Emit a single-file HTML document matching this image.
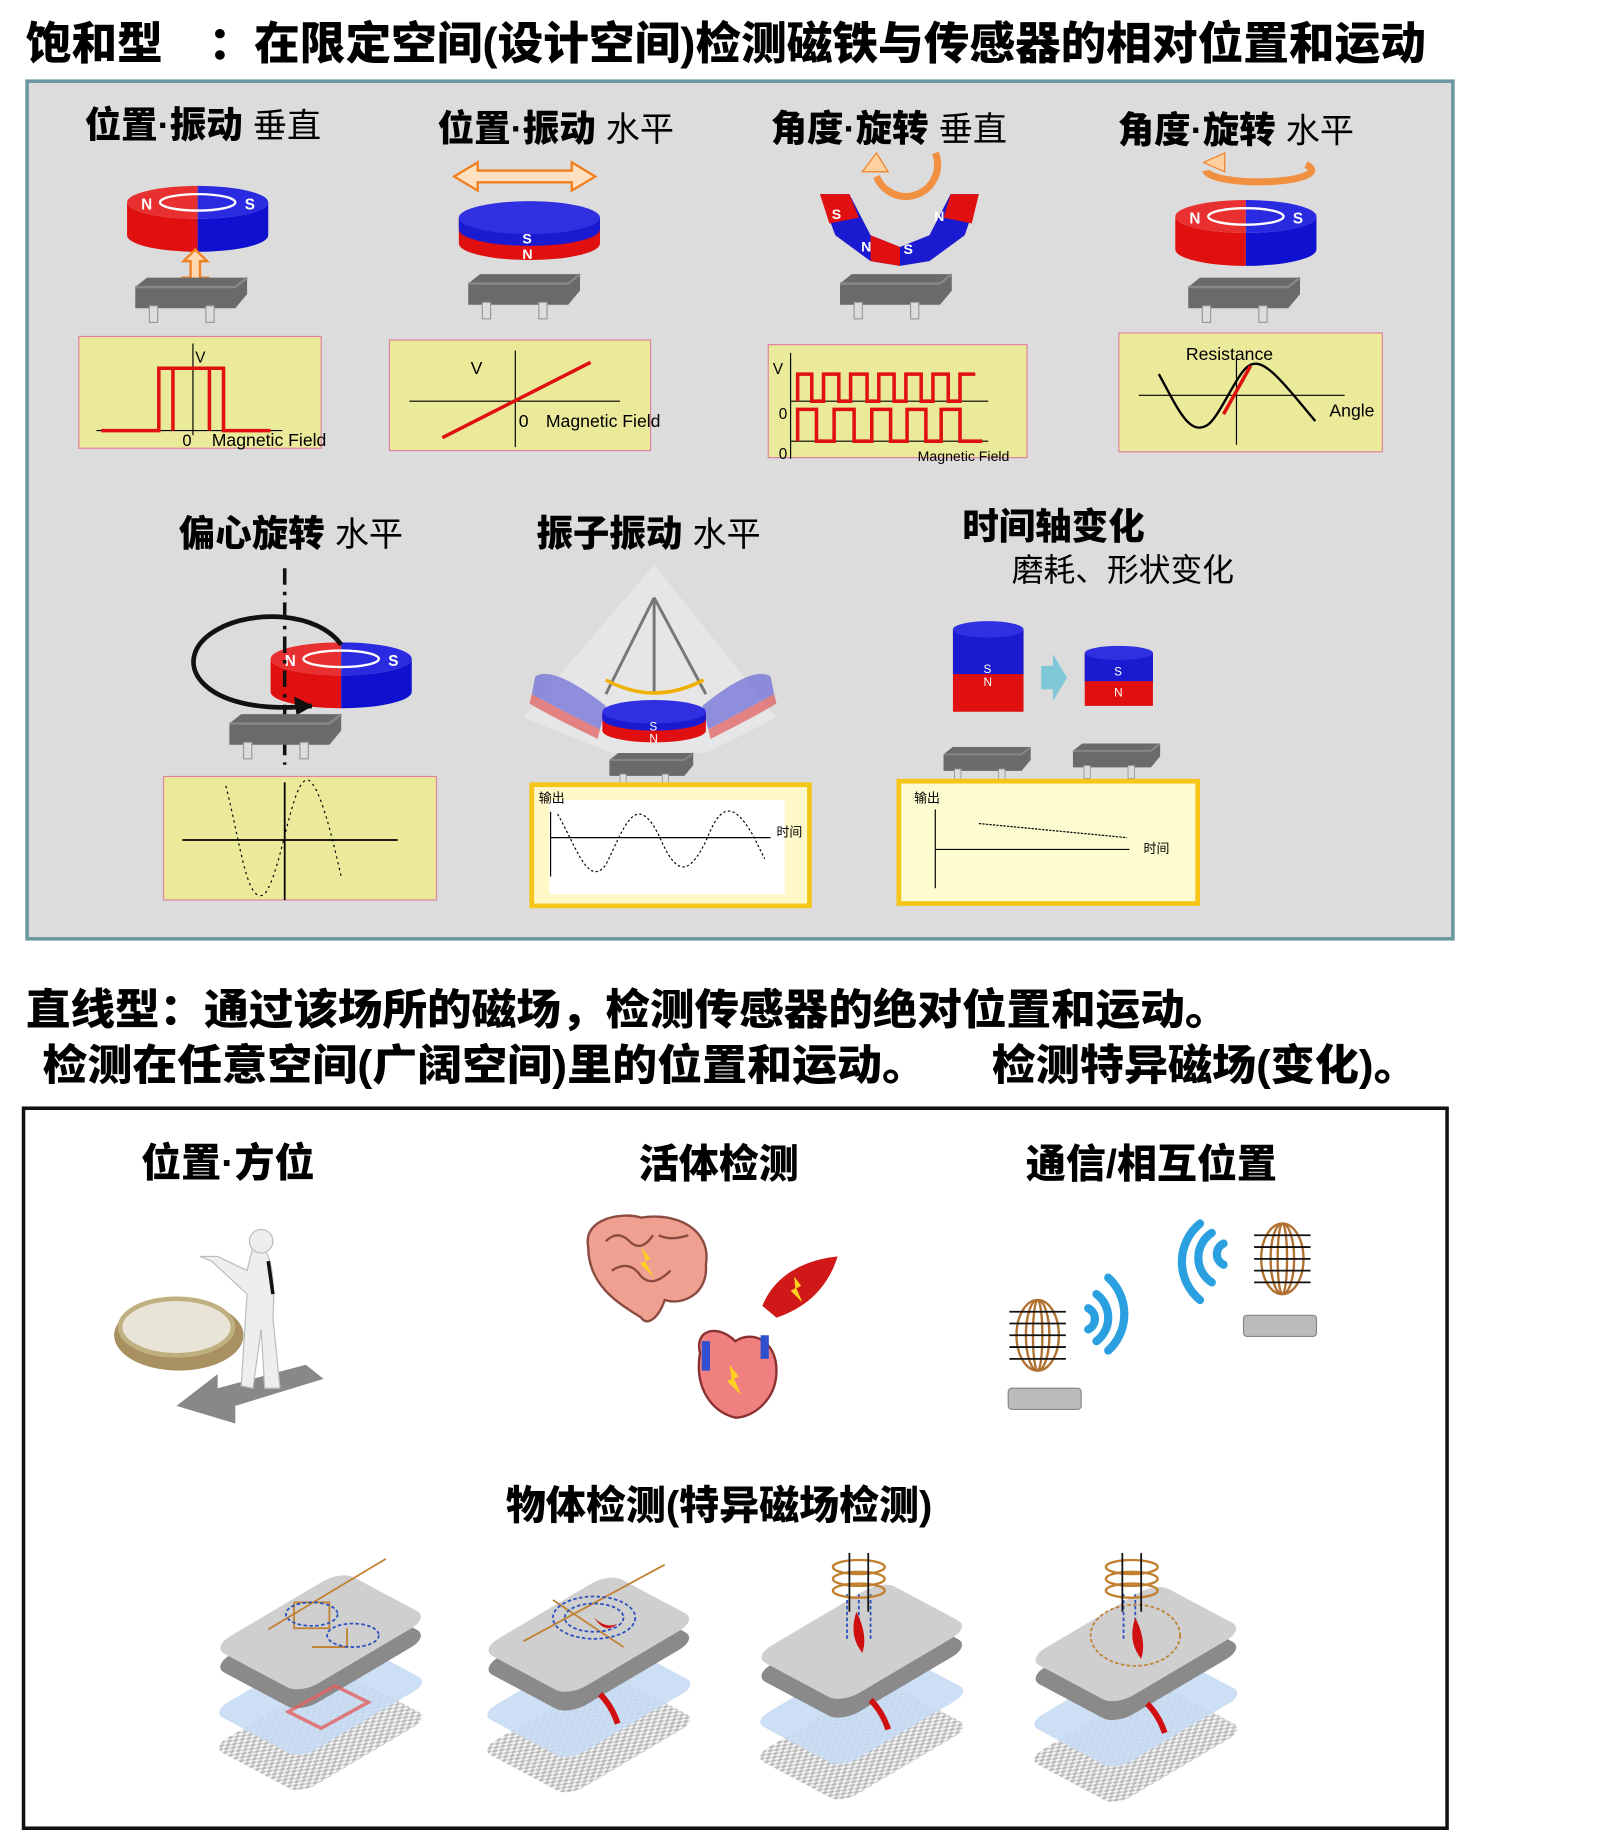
<!DOCTYPE html>
<html><head><meta charset="utf-8"><style>
html,body{margin:0;padding:0;background:#fff}
svg{display:block}
text{font-family:"Liberation Sans","Noto Sans CJK SC",sans-serif}
.h{font-weight:900}
</style></head><body>
<svg width="1600" height="1838" viewBox="0 0 1360 1562.3" xmlns="http://www.w3.org/2000/svg">
<defs>
<g id="chip">
<path d="M0 8 L10 0 L95 0 L95 14 L85 26 L0 26 Z" fill="#6a6a6a"/>
<path d="M0 8 L85 8 L95 0" fill="none" stroke="#888" stroke-width="2"/>
<rect x="12" y="24" width="7" height="14" fill="#ddd" stroke="#999"/>
<rect x="60" y="24" width="7" height="14" fill="#ddd" stroke="#999"/>
</g>
<g id="mag">
<path d="M-60 0 L-60 28 A60 14 0 0 0 0 42 L0 14 A60 14 0 0 1 -60 0Z" fill="#e01010"/>
<path d="M60 0 L60 28 A60 14 0 0 1 0 42 L0 14 A60 14 0 0 0 60 0Z" fill="#1010d0"/>
<path d="M-60 0 A60 14 0 0 1 0 -14 L0 14 A60 14 0 0 1 -60 0Z" fill="#e83030"/>
<path d="M60 0 A60 14 0 0 0 0 -14 L0 14 A60 14 0 0 0 60 0Z" fill="#2a2ae0"/>
<ellipse cx="0" cy="0" rx="32" ry="7" fill="none" stroke="#fff" stroke-width="2"/>
<text x="-48" y="6" font-size="13" fill="#fff" font-weight="bold">N</text>
<text x="40" y="6" font-size="13" fill="#fff" font-weight="bold">S</text>
</g>
<pattern id="chk" width="6" height="6" patternUnits="userSpaceOnUse"><rect width="6" height="6" fill="#eee"/><rect width="3" height="3" fill="#aaa"/><rect x="3" y="3" width="3" height="3" fill="#aaa"/></pattern>
<g id="phone">
<g transform="translate(0 85) matrix(1.1 -0.65 0.75 0.4 0 0)"><rect x="0" y="0" width="100" height="100" rx="12" fill="url(#chk)" opacity="0.8"/></g>
<g transform="translate(0 55) matrix(1.1 -0.65 0.75 0.4 0 0)"><rect x="0" y="0" width="100" height="100" rx="12" fill="#c8dcf4" opacity="0.9"/></g>
<g transform="translate(0 16) matrix(1.1 -0.65 0.75 0.4 0 0)"><rect x="0" y="0" width="100" height="100" rx="14" fill="#8a8a8a"/></g>
<g transform="matrix(1.1 -0.65 0.75 0.4 0 0)"><rect x="0" y="0" width="100" height="100" rx="14" fill="#cfcfcf"/></g>
</g>
</defs>

<text x="22" y="50" font-size="38" class="h" textLength="1190" lengthAdjust="spacingAndGlyphs">饱和型　：在限定空间(设计空间)检测磁铁与传感器的相对位置和运动</text>
<rect x="23" y="69" width="1212" height="729" fill="#dcdcdc" stroke="#6a96a0" stroke-width="3"/>

<text x="72" y="117" font-size="31" class="h">位置·振动 <tspan font-weight="normal" font-size="29">垂直</tspan></text>
<text x="372" y="120" font-size="31" class="h">位置·振动 <tspan font-weight="normal" font-size="29">水平</tspan></text>
<text x="655" y="120" font-size="31" class="h">角度·旋转 <tspan font-weight="normal" font-size="29">垂直</tspan></text>
<text x="950" y="121" font-size="31" class="h">角度·旋转 <tspan font-weight="normal" font-size="29">水平</tspan></text>

<use href="#mag" x="168" y="172"/>
<path d="M166 212 l-10 10 h6 v14 h-6 l10 10 l10 -10 h-6 v-14 h6z" fill="#ffd8b0" stroke="#f08020" stroke-width="2"/>
<use href="#chip" x="115" y="236"/>
<rect x="67" y="286" width="206" height="95" fill="#eaea9a" stroke="#e080a0"/>
<line x1="82" y1="366" x2="240" y2="366" stroke="#000"/><line x1="164" y1="292" x2="164" y2="370" stroke="#000"/>
<path d="M86 366 H135 V313 H190 V366 H230 M147 313 V366 M178 313 V366" fill="none" stroke="#e01010" stroke-width="3"/>
<text x="166" y="308" font-size="13">V</text><text x="155" y="379" font-size="14">0</text><text x="180" y="379" font-size="15">Magnetic Field</text>

<path d="M386 150 l20 -12 v7 h80 v-7 l20 12 l-20 12 v-7 h-80 v7z" fill="#ffe0c0" stroke="#f08020" stroke-width="2"/>
<path d="M390 185 v22 a60 14 0 0 0 120 0 v-22z" fill="#e01010"/>
<path d="M390 185 v10 a60 14 0 0 0 120 0 v-10z" fill="#1a1ad0"/>
<ellipse cx="450" cy="185" rx="60" ry="14" fill="#3030e0"/>
<text x="444" y="207" font-size="12" fill="#fff" font-weight="bold">S</text><text x="444" y="220" font-size="12" fill="#fff" font-weight="bold">N</text>
<use href="#chip" x="398" y="233"/>
<rect x="331" y="289" width="222" height="94" fill="#eaea9a" stroke="#e080a0"/>
<line x1="348" y1="341" x2="527" y2="341" stroke="#000"/><line x1="438" y1="298" x2="438" y2="380" stroke="#000"/>
<line x1="376" y1="372" x2="502" y2="308" stroke="#e01010" stroke-width="3"/>
<text x="400" y="318" font-size="15">V</text><text x="441" y="363" font-size="15">0</text><text x="464" y="363" font-size="15">Magnetic Field</text>

<path d="M697 165 L722 165 L740 200 L765 210 L790 200 L808 165 L832 165 L820 200 L790 222 L765 226 L740 222 L710 200Z" fill="#1a1ad0"/>
<path d="M697 165 L722 165 L730 185 L705 190Z M808 165 L832 165 L826 190 L802 185Z M740 200 L765 210 L765 226 L740 222Z" fill="#e01010"/>
<text x="707" y="186" font-size="12" fill="#fff" font-weight="bold">S</text><text x="794" y="188" font-size="12" fill="#fff" font-weight="bold">N</text>
<text x="732" y="214" font-size="12" fill="#fff" font-weight="bold">N</text><text x="768" y="216" font-size="12" fill="#fff" font-weight="bold">S</text>
<path d="M745 150 a22 22 0 0 0 50 -20" fill="none" stroke="#f09040" stroke-width="6"/>
<path d="M733 146 l12 -16 l10 16z" fill="#ffd0a0" stroke="#f08020"/>
<use href="#chip" x="714" y="233"/>
<rect x="653" y="293" width="220" height="96" fill="#eaea9a" stroke="#e080a0"/>
<line x1="672" y1="300" x2="672" y2="390" stroke="#000"/><line x1="672" y1="341" x2="840" y2="341" stroke="#000"/><line x1="672" y1="375" x2="840" y2="375" stroke="#000"/>
<path d="M678 341 V318 H690 V341 H700 V318 H713 V341 H723 V318 H737 V341 H747 V318 H760 V341 H770 V318 H783 V341 H793 V318 H806 V341 H816 V318 H829" fill="none" stroke="#e01010" stroke-width="3"/>
<path d="M678 375 V348 H694 V375 H709 V348 H726 V375 H741 V348 H757 V375 H771 V348 H787 V375 H800 V348 H816 V375 H835" fill="none" stroke="#e01010" stroke-width="3"/>
<text x="657" y="318" font-size="13">V</text><text x="662" y="356" font-size="13">0</text><text x="662" y="390" font-size="13">0</text><text x="780" y="392" font-size="12">Magnetic Field</text>

<path d="M1025 145 a45 10 0 1 0 85 -5" fill="none" stroke="#f09040" stroke-width="6"/>
<path d="M1023 138 l18 -8 v16z" fill="#ffd0a0" stroke="#f08020"/>
<use href="#mag" x="1059" y="184"/>
<use href="#chip" x="1010" y="236"/>
<rect x="951" y="283" width="224" height="101" fill="#eaea9a" stroke="#e080a0"/>
<line x1="968" y1="336" x2="1143" y2="336" stroke="#000"/><line x1="1051" y1="302" x2="1051" y2="378" stroke="#000"/>
<path d="M985 318 C1000 345 1010 370 1025 362 C1035 358 1050 320 1060 312 C1072 302 1085 318 1118 358" fill="none" stroke="#000" stroke-width="2"/>
<line x1="1040" y1="352" x2="1063" y2="311" stroke="#e01010" stroke-width="3"/>
<text x="1008" y="306" font-size="15">Resistance</text><text x="1130" y="354" font-size="15">Angle</text>

<text x="152" y="464" font-size="31" class="h">偏心旋转 <tspan font-weight="normal" font-size="29">水平</tspan></text>
<text x="456" y="464" font-size="31" class="h">振子振动 <tspan font-weight="normal" font-size="29">水平</tspan></text>
<text x="818" y="458" font-size="31" class="h">时间轴变化</text>
<text x="860" y="494" font-size="27">磨耗、形状变化</text>

<use href="#mag" x="290" y="560"/>
<path d="M265 600 C170 610 140 560 185 535 C215 518 270 520 290 548" fill="none" stroke="#111" stroke-width="4"/>
<path d="M250 592 l16 8 l-14 8z" fill="#111"/>
<line x1="242" y1="483" x2="242" y2="650" stroke="#111" stroke-width="3" stroke-dasharray="14 6 3 6"/>
<use href="#chip" x="195" y="607"/>
<rect x="139" y="660" width="232" height="105" fill="#eaea9a" stroke="#e080a0"/>
<line x1="155" y1="714" x2="338" y2="714" stroke="#000" stroke-width="1.5"/><line x1="242" y1="665" x2="242" y2="765" stroke="#000" stroke-width="1.5"/>
<path d="M192 668 C205 720 210 770 225 760 C240 740 248 660 262 663 C272 668 282 710 290 745" fill="none" stroke="#000" stroke-dasharray="2 3"/>

<path d="M556 480 L660 610 L600 640 L520 640 L445 610Z" fill="#e8e8e8" opacity="0.8"/>
<path d="M556 508 L515 590 M556 508 L600 590 M556 508 L556 590" stroke="#777" stroke-width="2.5"/>
<path d="M515 578 Q556 600 598 578" fill="none" stroke="#f0b000" stroke-width="3"/>
<path d="M455 575 Q470 565 515 600 L510 620 Q470 600 452 590Z" fill="#7070d8" opacity="0.75"/>
<path d="M655 575 Q640 565 597 600 L602 620 Q640 600 658 590Z" fill="#7070d8" opacity="0.75"/>
<path d="M452 590 Q470 600 510 620 L508 628 Q470 610 450 598Z M658 590 Q640 600 602 620 L604 628 Q640 610 660 598Z" fill="#e06060" opacity="0.75"/>
<path d="M512 605 v16 a44 10 0 0 0 88 0 v-16z" fill="#e01010"/>
<path d="M512 605 v6 a44 10 0 0 0 88 0 v-6z" fill="#1a1ad0"/>
<ellipse cx="556" cy="605" rx="44" ry="10" fill="#3030e0"/>
<text x="552" y="621" font-size="10" fill="#fff">S</text><text x="552" y="631" font-size="10" fill="#fff">N</text>
<use href="#chip" x="518" y="640" transform="translate(518 640) scale(0.75) translate(-518 -640)"/>
<rect x="452" y="667" width="236" height="103" fill="#fff8c8" stroke="#f5c518" stroke-width="4"/>
<rect x="467" y="680" width="200" height="80" fill="#fff"/>
<line x1="468" y1="690" x2="468" y2="745" stroke="#000"/><line x1="468" y1="712" x2="655" y2="712" stroke="#000"/>
<path d="M474 692 C490 720 500 755 515 735 C530 705 540 670 560 710 C575 745 585 745 600 715 C610 690 620 675 640 710 L650 730" fill="none" stroke="#000" stroke-dasharray="2 2"/>
<text x="458" y="682" font-size="11">输出</text><text x="660" y="711" font-size="11">时间</text>

<rect x="810" y="535" width="60" height="70" fill="#e01010"/>
<rect x="810" y="535" width="60" height="38" fill="#1a1ad0"/>
<ellipse cx="840" cy="535" rx="30" ry="7" fill="#3030e0"/>
<text x="836" y="572" font-size="10" fill="#fff">S</text><text x="836" y="583" font-size="10" fill="#fff">N</text>
<path d="M885 566 h10 v-10 l12 20 l-12 20 v-10 h-10z" fill="#80c8d8"/>
<rect x="922" y="555" width="58" height="45" fill="#e01010"/>
<rect x="922" y="555" width="58" height="24" fill="#1a1ad0"/>
<ellipse cx="951" cy="555" rx="29" ry="6" fill="#3030e0"/>
<text x="947" y="574" font-size="10" fill="#fff">S</text><text x="947" y="592" font-size="10" fill="#fff">N</text>
<use href="#chip" x="802" y="635" transform="translate(802 635) scale(0.78) translate(-802 -635)"/>
<use href="#chip" x="912" y="632" transform="translate(912 632) scale(0.78) translate(-912 -632)"/>
<rect x="764" y="664" width="254" height="104" fill="#fdfbd0" stroke="#f5c518" stroke-width="4"/>
<line x1="795" y1="688" x2="795" y2="755" stroke="#000"/><line x1="795" y1="722" x2="960" y2="722" stroke="#000"/>
<line x1="832" y1="700" x2="958" y2="712" stroke="#000" stroke-dasharray="2 1"/>
<text x="777" y="682" font-size="11">输出</text><text x="972" y="725" font-size="11">时间</text>

<text x="22" y="871" font-size="36" class="h" textLength="1023" lengthAdjust="spacingAndGlyphs">直线型：通过该场所的磁场，检测传感器的绝对位置和运动。</text>
<text x="36" y="918" font-size="36" class="h" textLength="752" lengthAdjust="spacingAndGlyphs">检测在任意空间(广阔空间)里的位置和运动。</text>
<text x="843" y="918" font-size="36" class="h" textLength="362" lengthAdjust="spacingAndGlyphs">检测特异磁场(变化)。</text>
<rect x="20" y="942" width="1210" height="612" fill="#fff" stroke="#111" stroke-width="3"/>
<text x="120" y="1000" font-size="34" class="h">位置·方位</text>
<text x="543" y="1001" font-size="34" class="h">活体检测</text>
<text x="872" y="1001" font-size="34" class="h">通信/相互位置</text>
<text x="430" y="1291" font-size="34" class="h">物体检测(特异磁场检测)</text>

<path d="M150 1195 L185 1168 L185 1180 L260 1160 L275 1172 L200 1195 L200 1210 Z" fill="#888"/>
<ellipse cx="152" cy="1135" rx="55" ry="30" fill="#a89060"/>
<ellipse cx="150" cy="1128" rx="48" ry="24" fill="#e8e4d8" stroke="#c0b080" stroke-width="4"/>
<path d="M215 1060 C225 1055 235 1070 232 1120 L238 1180 L225 1180 L222 1130 L215 1180 L205 1178 L210 1100 L180 1072 L170 1068 L185 1068 L210 1080 Z" fill="#eee" stroke="#bbb"/>
<circle cx="222" cy="1055" r="10" fill="#eee" stroke="#bbb"/>
<line x1="228" y1="1072" x2="232" y2="1100" stroke="#111" stroke-width="3"/>

<path d="M500 1060 C495 1035 530 1030 545 1035 C575 1030 605 1045 600 1075 C602 1100 580 1110 565 1105 C560 1120 550 1128 545 1120 C530 1110 500 1095 500 1060Z" fill="#f0a090" stroke="#8a4a40" stroke-width="2"/>
<path d="M515 1055 q10 -10 20 0 q10 10 20 -5 M520 1080 q15 -10 25 5 q10 10 25 -5 M560 1050 q10 5 25 0" fill="none" stroke="#8a4a40" stroke-width="2"/>
<path d="M545 1060 l8 10 l-5 2 l8 14 l-12 -12 l5 -2z" fill="#ffd020"/>
<path d="M648 1110 C660 1080 690 1070 712 1068 C705 1090 690 1110 660 1120Z" fill="#d01818"/>
<path d="M675 1085 l6 8 l-4 2 l5 12 l-10 -10 l4 -2z" fill="#ffd020"/>
<path d="M595 1150 C590 1130 610 1125 625 1140 C640 1130 660 1140 660 1165 C660 1190 640 1205 625 1205 C605 1200 590 1180 595 1150Z" fill="#f08080" stroke="#8a3030" stroke-width="2"/>
<path d="M600 1140 v25 M650 1135 v20" stroke="#3050d0" stroke-width="7"/>
<path d="M620 1160 l8 10 l-4 2 l6 14 l-12 -12 l4 -2z" fill="#ffd020"/>

<g fill="none" stroke="#b07030" stroke-width="2">
<ellipse cx="882" cy="1135" rx="10" ry="30"/><ellipse cx="882" cy="1135" rx="18" ry="30"/><ellipse cx="882" cy="1135" rx="4" ry="30"/>
<ellipse cx="1090" cy="1070" rx="10" ry="30"/><ellipse cx="1090" cy="1070" rx="18" ry="30"/><ellipse cx="1090" cy="1070" rx="4" ry="30"/>
</g>
<g stroke="#111" stroke-width="1.5">
<path d="M858 1115 h48 M858 1125 h48 M858 1135 h48 M858 1145 h48 M858 1155 h48 M1066 1050 h48 M1066 1060 h48 M1066 1070 h48 M1066 1080 h48 M1066 1090 h48"/>
</g>
<g fill="none" stroke="#2aa0e0" stroke-width="7" stroke-linecap="round">
<path d="M925 1112 a10 10 0 0 1 0 18"/><path d="M932 1100 a25 25 0 0 1 0 40"/><path d="M942 1086 a42 42 0 0 1 0 62"/>
<path d="M1040 1075 a10 10 0 0 1 0 -18"/><path d="M1030 1090 a25 25 0 0 1 0 -42"/><path d="M1020 1105 a42 42 0 0 1 0 -65"/>
</g>
<rect x="857" y="1180" width="62" height="18" rx="3" fill="#bbb" stroke="#888"/>
<rect x="1057" y="1118" width="62" height="18" rx="3" fill="#bbb" stroke="#888"/>

<!-- phones -->
<use href="#phone" x="180" y="1400"/>
<use href="#phone" x="408" y="1402"/>
<use href="#phone" x="640" y="1408"/>
<use href="#phone" x="873" y="1410"/>
<path d="M245 1455 l40 -22 l28 14 l-40 22z" fill="none" stroke="#e06060" stroke-width="3" opacity="0.8"/>
<g fill="none" stroke="#c08030" stroke-width="1.5">
<path d="M228 1385 l100 -60 M250 1362 h30 v22 h-30 v-22 M265 1400 h30 v-16"/>
<path d="M445 1395 l120 -65 M470 1360 l60 40"/>
</g>
<g fill="none" stroke="#2a50c0" stroke-width="1.5" stroke-dasharray="3 2">
<ellipse cx="265" cy="1372" rx="22" ry="10"/><ellipse cx="300" cy="1390" rx="22" ry="10"/>
<ellipse cx="505" cy="1375" rx="35" ry="18"/><ellipse cx="505" cy="1375" rx="25" ry="12"/>
<path d="M720 1355 v40 M730 1355 v40 M740 1355 v40"/>
<path d="M955 1355 v40 M965 1355 v40"/>
</g>
<ellipse cx="965" cy="1390" rx="38" ry="26" fill="none" stroke="#c08030" stroke-width="1.5" stroke-dasharray="3 2"/>
<path d="M505 1375 q10 15 20 5 q-10 5 -20 -5Z M728 1370 q10 20 5 35 q-12 -15 -5 -35Z M965 1375 q10 20 5 35 q-12 -15 -5 -35Z" fill="#d01010"/>
<path d="M510 1440 q10 10 15 25 M740 1445 q10 10 15 25 M975 1448 q10 10 15 25" stroke="#d01010" stroke-width="5" fill="none"/>
<g fill="none" stroke="#c08030" stroke-width="2">
<ellipse cx="730" cy="1332" rx="22" ry="6"/><ellipse cx="730" cy="1342" rx="22" ry="6"/><ellipse cx="730" cy="1352" rx="22" ry="6"/>
<ellipse cx="962" cy="1332" rx="22" ry="6"/><ellipse cx="962" cy="1342" rx="22" ry="6"/><ellipse cx="962" cy="1352" rx="22" ry="6"/>
</g>
<path d="M722 1320 v50 M738 1320 v50 M954 1320 v50 M970 1320 v50" stroke="#111" stroke-width="1.5"/>
</svg>
</body></html>
